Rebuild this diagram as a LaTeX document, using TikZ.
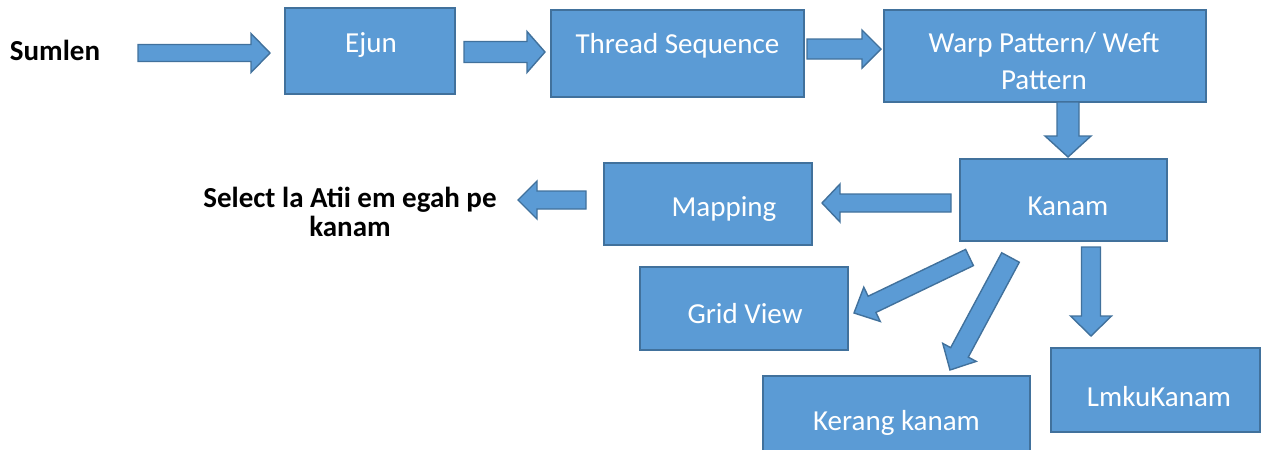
\documentclass[tikz,border=0pt]{standalone}
\usepackage{fontspec}
\setmainfont{Carlito}
\newfontfamily\boxfont{Carlito}
\newfontfamily\lblfont{Carlito}
\usetikzlibrary{calc}
\definecolor{boxfill}{HTML}{5B9BD5}
\definecolor{boxline}{HTML}{41719C}
\tikzset{
  box/.style={draw=boxline, fill=boxfill, line width=1.6pt, inner sep=0pt},
  boxtext/.style={text=white, font=\boxfont\fontsize{29}{37}\selectfont, align=center, inner sep=0pt},
  lbl/.style={font=\lblfont\bfseries\fontsize{29}{29}\selectfont, align=center, inner sep=0pt},
  barr/.style={draw=boxline, fill=boxfill, line width=1.4pt, line join=miter}
}
% block arrow: tail, tip, shaft width, head width, head length
\newcommand{\barrow}[5]{%
  \path let \p1=($(#2)-(#1)$) in \pgfextra{%
    \pgfmathsetmacro\tmpL{veclen(\x1,\y1)}\xdef\baL{\tmpL}%
    \pgfmathsetmacro\tmpA{atan2(\y1,\x1)}\xdef\baA{\tmpA}};
  \begin{scope}[shift={(#1)},rotate=\baA]
    \draw[barr] (0pt,{#3/2*1pt}) -- ({(\baL-#5)*1pt},{#3/2*1pt})
      -- ({(\baL-#5)*1pt},{#4/2*1pt}) -- ({\baL*1pt},0pt)
      -- ({(\baL-#5)*1pt},{-#4/2*1pt}) -- ({(\baL-#5)*1pt},{-#3/2*1pt})
      -- (0pt,{-#3/2*1pt}) -- cycle;
  \end{scope}}
\begin{document}
\begin{tikzpicture}[x=1pt,y=-1pt]
\useasboundingbox (0,0) rectangle (1267,450);
\clip (0,0) rectangle (1267,450);

% boxes
\node[box, minimum width=170pt, minimum height=86pt] (ejun) at (370,51) {};
\node[box, minimum width=253pt, minimum height=87pt] (thread) at (677.5,53.5) {};
\node[box, minimum width=322pt, minimum height=92pt] (warp) at (1045,56) {};
\node[box, minimum width=207pt, minimum height=82pt] (kanam) at (1063.5,200) {};
\node[box, minimum width=208pt, minimum height=82pt] (mapping) at (708,204) {};
\node[box, minimum width=208pt, minimum height=83pt] (grid) at (744,308.5) {};
\node[box, minimum width=267pt, minimum height=94pt] (kerang) at (896.5,423) {};
\node[box, minimum width=209pt, minimum height=84pt] (lmku) at (1155.5,390) {};

% box texts
\node[boxtext] (ejun-t) at ($(ejun.center)+(1,-6)$) {Ejun};
\node[boxtext] (thread-t) at ($(thread.center)+(0,-8)$) {Thread Sequence};
\node[boxtext] (warp-t) at ($(warp.center)+(-1,5)$) {Warp Pattern/ Weft\\Pattern};
\node[boxtext] (kanam-t) at ($(kanam.center)+(4.5,6)$) {Kanam};
\node[boxtext] (mapping-t) at ($(mapping.center)+(16,5)$) {Mapping};
\node[boxtext] (grid-t) at ($(grid.center)+(1,5.5)$) {Grid View};
\node[boxtext] (kerang-t) at ($(kerang.center)+(0,0)$) {Kerang kanam};
\node[boxtext] (lmku-t) at ($(lmku.center)+(3.5,7)$) {LmkuKanam};

% plain labels
\node[lbl] (sumlen) at (55,50) {Sumlen};
\node[lbl] (select) at (350,212) {Select la Atii em egah pe\\kanam};

% arrow end points
\coordinate (a1s) at (138,53);   \coordinate (a1e) at (270,53);
\coordinate (a2s) at (464,52);   \coordinate (a2e) at (545,52);
\coordinate (a3s) at (807,49);   \coordinate (a3e) at (881,49);
\coordinate (a4s) at (1068,102); \coordinate (a4e) at (1068,157);
\coordinate (a5s) at (951,203);  \coordinate (a5e) at (822,203);
\coordinate (a6s) at (586,200);  \coordinate (a6e) at (518,200);
\coordinate (a7s) at (969.5,257.5); \coordinate (a7e) at (854,313);
\coordinate (a8s) at (1010.5,257.5); \coordinate (a8e) at (950,370);
\coordinate (a9s) at (1091,247); \coordinate (a9e) at (1091,336);

\barrow{a1s}{a1e}{17}{39}{19}
\barrow{a2s}{a2e}{21}{41}{18}
\barrow{a3s}{a3e}{20}{38}{19}
\barrow{a4s}{a4e}{22}{46}{21}
\barrow{a5s}{a5e}{18}{38}{18}
\barrow{a6s}{a6e}{18}{38}{19}
\barrow{a7s}{a7e}{18}{38}{20}
\barrow{a8s}{a8e}{20}{38}{20}
\barrow{a9s}{a9e}{19}{41}{20}
\end{tikzpicture}
\end{document}
